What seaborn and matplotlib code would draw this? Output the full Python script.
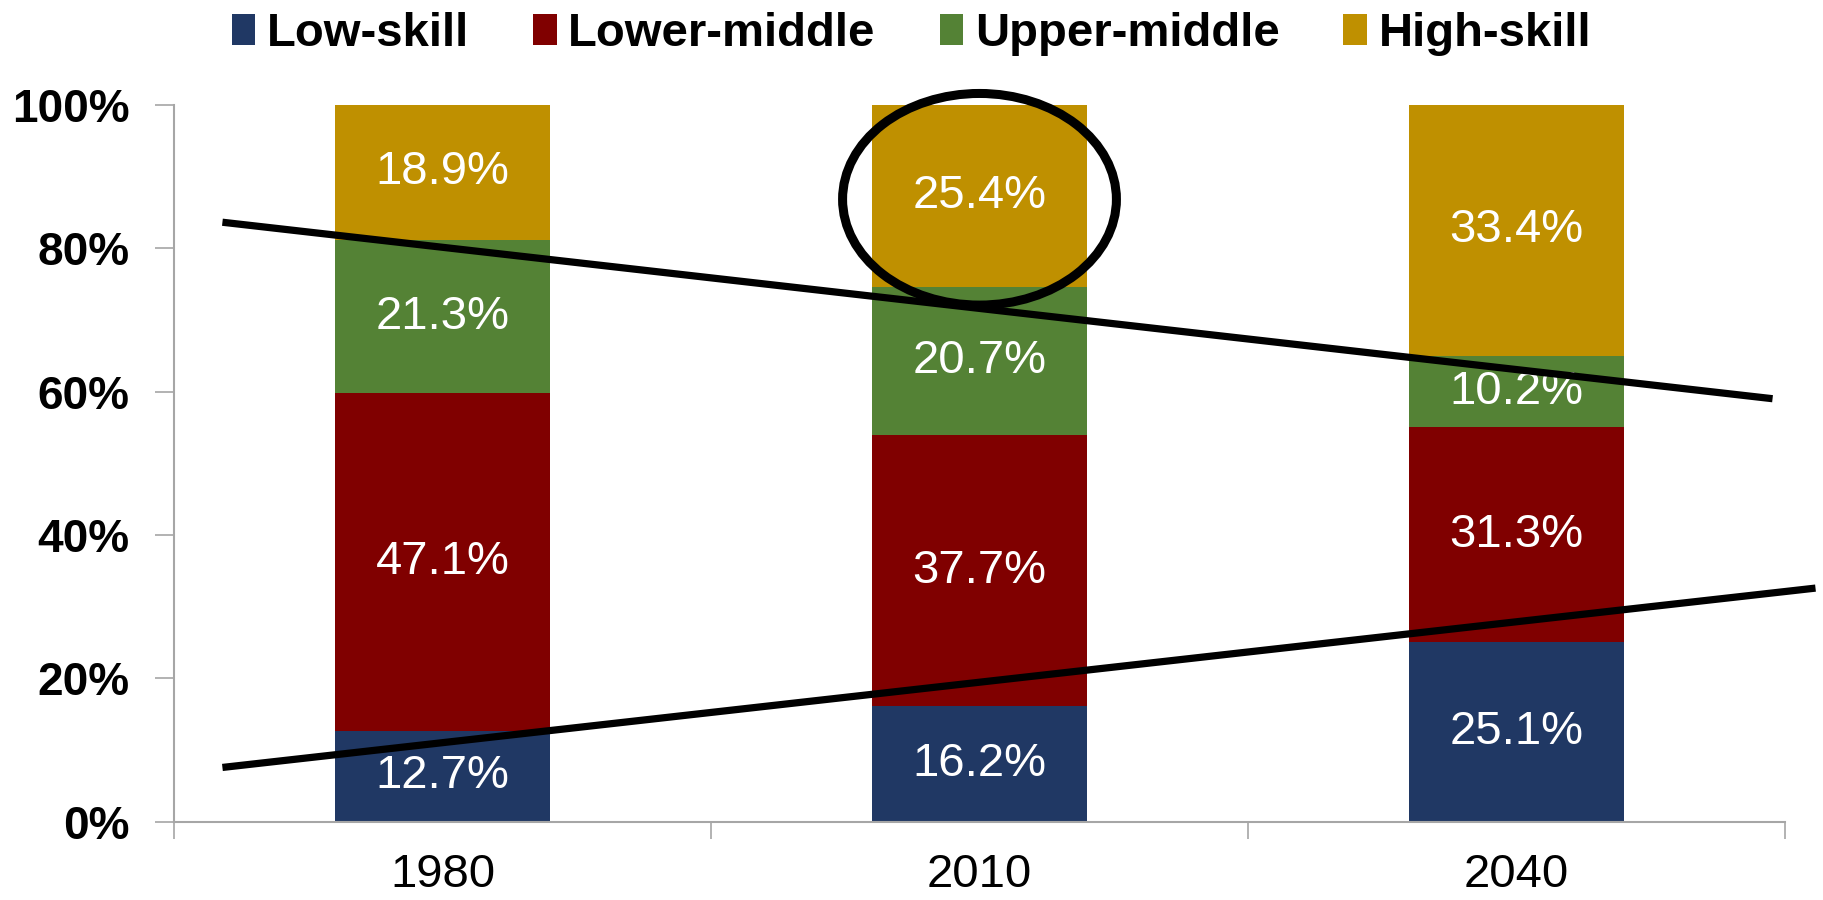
import numpy as np
import pandas as pd
import matplotlib
matplotlib.use("Agg")
import matplotlib.pyplot as plt
from matplotlib.patches import Ellipse, Patch
import seaborn as sns

years = ["1980", "2010", "2040"]
series = ["Low-skill", "Lower-middle", "Upper-middle", "High-skill"]
# segment heights as drawn in the picture
low_skill = [12.7, 16.2, 25.1]
lower_middle = [47.1, 37.7, 29.9]
upper_middle = [21.3, 20.7, 10.0]
high_skill = [18.9, 25.4, 35.0]
# data labels as printed on the segments
low_skill_labels = ["12.7%", "16.2%", "25.1%"]
lower_middle_labels = ["47.1%", "37.7%", "31.3%"]
upper_middle_labels = ["21.3%", "20.7%", "10.2%"]
high_skill_labels = ["18.9%", "25.4%", "33.4%"]
colors = ["#203864", "#800000", "#548235", "#BF9000"]
y_ticks = [0, 20, 40, 60, 80, 100]
y_tick_labels = ["0%", "20%", "40%", "60%", "80%", "100%"]

# annotation overlays (trend lines and highlight ellipse), in data units
upper_trend_x = [-0.41, 2.477]
upper_trend_y = [83.6, 59.0]
lower_trend_x = [-0.41, 2.557]
lower_trend_y = [7.6, 32.6]
ellipse_center = (1.0, 86.8)
ellipse_size = (0.51, 29.5)

sns.set_theme(style="white")
plt.rcParams["font.family"] = ["Liberation Sans", "DejaVu Sans"]
plt.rcParams["text.color"] = "black"

values = np.array([low_skill, lower_middle, upper_middle, high_skill])
labels = [low_skill_labels, lower_middle_labels, upper_middle_labels, high_skill_labels]
cum = np.cumsum(values, axis=0)

fig = plt.figure(figsize=(18.23, 9.0), dpi=100)
ax = fig.add_axes([0.0955, 0.0867, 0.8836, 0.7971])

# draw cumulative bars from top down so each layer shows its own segment
for i in range(len(series) - 1, -1, -1):
    df = pd.DataFrame({"year": years, "value": cum[i]})
    sns.barplot(data=df, x="year", y="value", color=colors[i], saturation=1,
                width=0.4, linewidth=0, edgecolor="none", ax=ax, order=years)

# segment labels
for j in range(len(years)):
    for i in range(len(series)):
        bottom = cum[i][j] - values[i][j]
        ax.text(j, bottom + values[i][j] / 2, labels[i][j],
                ha="center", va="center", color="white", fontsize=34)

ax.plot(upper_trend_x, upper_trend_y, color="black", lw=5.2, clip_on=False,
        solid_capstyle="butt", zorder=5)
ax.plot(lower_trend_x, lower_trend_y, color="black", lw=5.2, clip_on=False,
        solid_capstyle="butt", zorder=5)
ax.add_patch(Ellipse(ellipse_center, ellipse_size[0], ellipse_size[1],
                     fill=False, edgecolor="black", lw=6.5, clip_on=False, zorder=6))

ax.set_xlim(-0.5, 2.5)
ax.set_ylim(0, 100)
ax.set_xlabel("")
ax.set_ylabel("")

ax.set_yticks(y_ticks)
ax.set_yticklabels(y_tick_labels, fontsize=33, fontweight="bold", color="black")
ax.set_xticks([-0.5, 0.5, 1.5, 2.5])
ax.set_xticklabels([])
ax.set_xticks([0, 1, 2], minor=True)
ax.set_xticklabels(years, minor=True, fontsize=34, color="black")
ax.tick_params(axis="x", which="major", direction="out", length=12, width=1.2,
               color="#A6A6A6", bottom=True)
ax.tick_params(axis="x", which="minor", length=0, pad=22)
ax.tick_params(axis="y", direction="out", length=14, width=1.2, color="#A6A6A6",
               left=True, pad=18)

for s in ["top", "right"]:
    ax.spines[s].set_visible(False)
for s in ["left", "bottom"]:
    ax.spines[s].set_color("#A6A6A6")
    ax.spines[s].set_linewidth(1.5)

handles = [Patch(facecolor=c, edgecolor="none") for c in colors]
leg = fig.legend(handles, series, loc="center", bbox_to_anchor=(0.5, 0.962),
                 ncol=4, frameon=False, prop={"size": 34, "weight": "bold"},
                 handlelength=0.5, handleheight=0.62, handletextpad=0.25,
                 columnspacing=1.35, borderpad=0)
for t in leg.get_texts():
    t.set_color("black")

fig.savefig("out.png", dpi=100)
